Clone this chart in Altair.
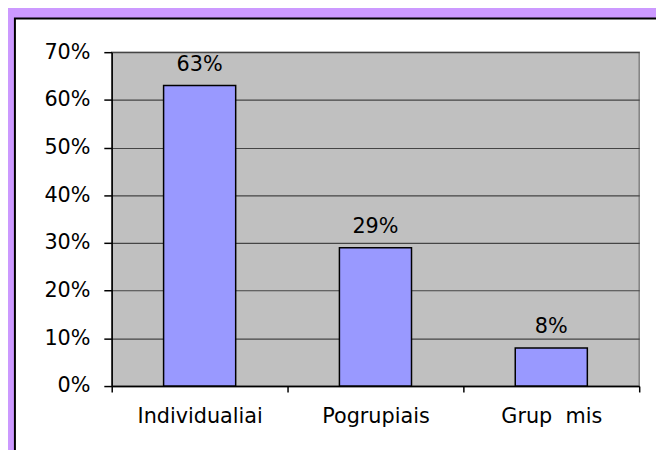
import altair as alt
import pandas as pd

categories = ["Individualiai", "Pogrupiais", "Grup\u00a0 mis"]
values = [63, 29, 8]
labels = ["63%", "29%", "8%"]
y_ticks = [0, 10, 20, 30, 40, 50, 60, 70]

FONT = "DejaVu Sans"
FS = 21
W, H = 534, 338

df = pd.DataFrame({"cat": categories, "val": values, "lab": labels})
one = pd.DataFrame({"k": [0]})

x_enc = alt.X(
    "cat:N",
    sort=categories,
    scale=alt.Scale(paddingInner=0, paddingOuter=0),
    axis=alt.Axis(
        title=None, labelAngle=0, tickBand="extent", tickSize=6,
        domainColor="black", domainWidth=1.5, tickColor="black", tickWidth=1.5,
        labelPadding=14, labelFontSize=FS, labelFont=FONT, labelColor="black",
        grid=False,
    ),
)
y_enc = alt.Y(
    "val:Q",
    scale=alt.Scale(domain=[0, 70]),
    axis=alt.Axis(
        title=None, values=y_ticks, labelExpr="datum.value + '%'",
        tickSize=8, labelPadding=14, labelFontSize=FS, labelFont=FONT,
        labelColor="black", domainColor="black", domainWidth=1.5,
        tickColor="black", tickWidth=1.5,
        grid=True, gridColor="#454545", gridWidth=1.2,
    ),
)

purple = "#CC99FF"
top_strip = alt.Chart(one).mark_rect(fill=purple).encode(
    x=alt.value(-200), x2=alt.value(900), y=alt.value(-200), y2=alt.value(-34)
)
left_strip = alt.Chart(one).mark_rect(fill=purple).encode(
    x=alt.value(-200), x2=alt.value(-98), y=alt.value(-200), y2=alt.value(900)
)
frame = alt.Chart(one).mark_rect(
    fill="white", fillOpacity=0, stroke="black", strokeWidth=2
).encode(
    x=alt.value(-98), x2=alt.value(900), y=alt.value(-34), y2=alt.value(900)
)

bars = alt.Chart(df).mark_bar(
    width=alt.RelativeBandSize(0.41), fill="#9999FF", stroke="black", strokeWidth=1.5
).encode(x=x_enc, y=y_enc)

text = alt.Chart(df).mark_text(
    dy=-15, baseline="alphabetic", fontSize=FS, font=FONT, color="black"
).encode(x=alt.X("cat:N", sort=categories), y="val:Q", text="lab:N")

chart = alt.layer(top_strip, left_strip, frame, bars, text).properties(
    width=W, height=H,
    autosize=alt.AutoSizeParams(type="none"),
    padding={"left": 105, "top": 42, "right": 17, "bottom": 62},
    background="white",
).configure_view(
    fill="#C0C0C0", stroke="#808080", strokeWidth=1.5
)

chart.save("out.html", embed_options={"renderer": "svg", "actions": False})
